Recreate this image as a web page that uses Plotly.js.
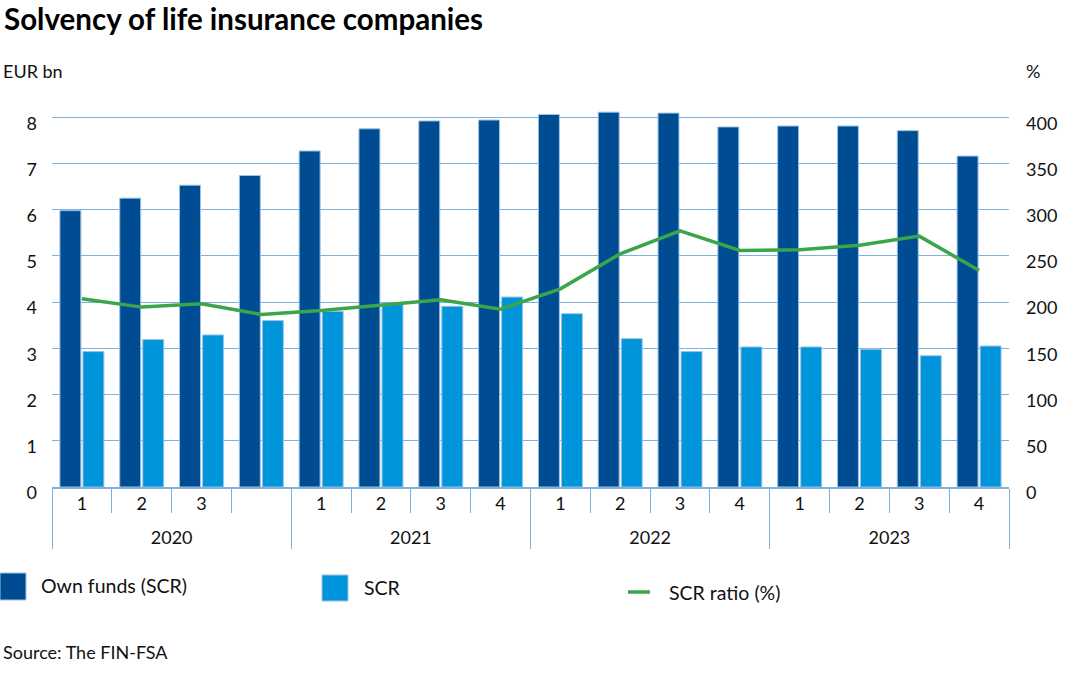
<!DOCTYPE html>
<html>
<head>
<meta charset="utf-8">
<script src="https://cdn.plot.ly/plotly-3.0.1.min.js"></script>
<style>html,body{margin:0;padding:0;background:#fff;}#chart{width:1072px;height:683px;}</style>
</head>
<body>
<div id="chart"></div>
<script>
const years = ['2020','2020','2020','2020','2021','2021','2021','2021','2022','2022','2022','2022','2023','2023','2023','2023'];
const quarters = ['1','2','3',' ','1','2','3','4','1','2','3','4','1','2','3','4'];
const ownFunds = [5.98,6.25,6.53,6.74,7.27,7.75,7.92,7.94,8.06,8.11,8.09,7.79,7.81,7.81,7.71,7.16];
const scr = [2.93,3.19,3.29,3.60,3.80,3.97,3.91,4.11,3.75,3.21,2.93,3.03,3.03,2.98,2.84,3.05];
const scrRatio = [203.6,194.6,198.2,186.7,191,196.4,202.5,192.4,214.4,252.3,277.1,255.9,256.6,261.6,271.4,234.2];
const leftTicks = [0,1,2,3,4,5,6,7,8];
const rightTicks = [0,50,100,150,200,250,300,350,400];

const FONT = 'Lato, "Source Sans Pro", sans-serif';
const darkBlue = '#004c93';
const lightBlue = '#0095da';
const green = '#3aa54a';
const gridCol = '#7fb1dc';

const L = 52, R = 1009, T = 108, B = 487;
const px = x => (x - L) / (R - L);
const py = y => (B - y) / (B - T);

// x tick labels: visible text at 18px on a small base font; blank filler lines
// above and below each quarter place the two label rows as in the original
const big = s => '<span style="font-size:18px">' + s + '</span>';
const quarterLabels = quarters.map(q => '\u00a0<br>' + big(q) + '<br>\u00a0<br>\u00a0');
const yearLabels = years.map(big);
const xcats = [yearLabels, quarterLabels];

const traces = [
  {type:'bar', name:'Own funds (SCR)', x:xcats, y:ownFunds,
   marker:{color:darkBlue, line:{color:'#9cc3e4', width:1}}, showlegend:false},
  {type:'bar', name:'SCR', x:xcats, y:scr,
   marker:{color:lightBlue, line:{color:'#9cc3e4', width:1}}, showlegend:false},
  {type:'scatter', mode:'lines', name:'SCR ratio (%)', x:xcats, y:scrRatio,
   yaxis:'y2', line:{color:green, width:3.5}, showlegend:false}
];

const layout = {
  width:1072, height:683,
  margin:{l:L, r:1072-R, t:T, b:683-B, pad:0},
  paper_bgcolor:'#fff', plot_bgcolor:'#fff',
  font:{family:FONT, size:18, color:'#111'},
  barmode:'group', bargap:0.23, bargroupgap:0.09,
  showlegend:false,
  xaxis:{type:'multicategory', showline:true, linecolor:gridCol, linewidth:1.5,
    ticks:'outside', ticklen:24, tickcolor:gridCol, tickwidth:1,
    showdividers:true, dividercolor:gridCol, dividerwidth:1,
    tickfont:{size:8.5, color:'#111'}, showgrid:false},
  yaxis:{range:[0,8.2], tickvals:leftTicks, ticktext:leftTicks.map(String),
    showgrid:true, gridcolor:gridCol, gridwidth:1, zeroline:false, showline:false,
    ticks:'', ticklabelstandoff:14, ticklabelshift:6, tickfont:{size:18}},
  yaxis2:{range:[0,410], tickvals:rightTicks, ticktext:rightTicks.map(String),
    overlaying:'y', side:'right', showgrid:false, zeroline:false, showline:false,
    ticks:'', ticklabelstandoff:16, ticklabelshift:6, tickfont:{size:18}},
  annotations:[
    {xref:'paper', yref:'paper', x:px(2), y:py(18), xanchor:'left', yanchor:'middle',
     text:'<b>Solvency of life insurance companies</b>', showarrow:false, font:{size:29.5, color:'#000'}},
    {xref:'paper', yref:'paper', x:px(1), y:py(71), xanchor:'left', yanchor:'middle',
     text:'EUR bn', showarrow:false, font:{size:18}},
    {xref:'paper', yref:'paper', x:px(1042), y:py(71), xanchor:'right', yanchor:'middle',
     text:'%', showarrow:false, font:{size:18}},
    {xref:'paper', yref:'paper', x:px(39), y:py(585), xanchor:'left', yanchor:'middle',
     text:'Own funds (SCR)', showarrow:false, font:{size:19.5}},
    {xref:'paper', yref:'paper', x:px(362), y:py(587), xanchor:'left', yanchor:'middle',
     text:'SCR', showarrow:false, font:{size:19.5}},
    {xref:'paper', yref:'paper', x:px(667), y:py(592), xanchor:'left', yanchor:'middle',
     text:'SCR ratio (%)', showarrow:false, font:{size:19.5}},
    {xref:'paper', yref:'paper', x:px(1), y:py(652), xanchor:'left', yanchor:'middle',
     text:'Source: The FIN-FSA', showarrow:false, font:{size:18}}
  ],
  shapes:[
    {type:'rect', xref:'paper', yref:'paper', x0:px(0), x1:px(26), y0:py(573), y1:py(600),
     fillcolor:darkBlue, line:{width:1, color:'#9cc3e4'}},
    {type:'rect', xref:'paper', yref:'paper', x0:px(322), x1:px(348), y0:py(575), y1:py(601),
     fillcolor:lightBlue, line:{width:1, color:'#9cc3e4'}},
    {type:'line', xref:'paper', yref:'paper', x0:px(628), x1:px(650), y0:py(592), y1:py(592),
     line:{width:3.5, color:green}}
  ]
};

Plotly.newPlot('chart', traces, layout, {staticPlot:true, displayModeBar:false});
</script>
</body>
</html>
